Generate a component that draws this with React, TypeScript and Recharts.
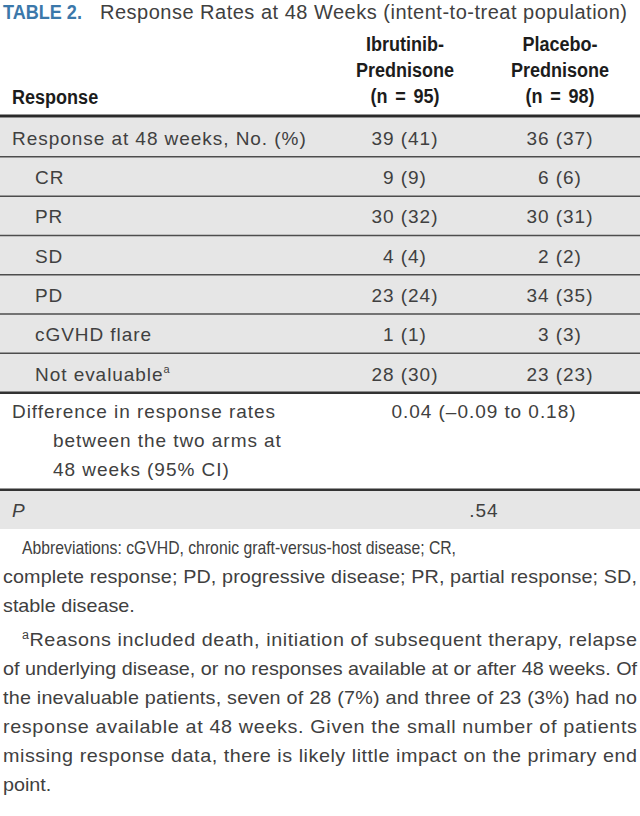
import { ComposedChart, Scatter, XAxis, YAxis, ReferenceArea, ReferenceLine } from "recharts"

const FONT = '"Liberation Sans", Arial, sans-serif'

// table content
const rowLabels = ["Response at 48 weeks, No. (%)", "CR", "PR", "SD", "PD", "cGVHD flare", "Not evaluable"]
const rowIndented = [false, true, true, true, true, true, true]
const rowNotes = ["", "", "", "", "", "", "a"]
const ibrutinibValues = ["39 (41)", "9 (9)", "30 (32)", "4 (4)", "23 (24)", "1 (1)", "28 (30)"]
const placeboValues = ["36 (37)", "6 (6)", "30 (31)", "2 (2)", "34 (35)", "3 (3)", "23 (23)"]
const headerIbrutinib = ["Ibrutinib-", "Prednisone", "(n = 95)"]
const headerPlacebo = ["Placebo-", "Prednisone", "(n = 98)"]
const headerLabel = "Response"
const differenceLabel = ["Difference in response rates", "between the two arms at", "48 weeks (95% CI)"]
const differenceValue = "0.04 (–0.09 to 0.18)"
const pLabel = "P"
const pValue = ".54"

const titleTag = "TABLE 2."
const titleText = "Response Rates at 48 Weeks (intent-to-treat population)"

const footnoteAbbrev = [
  "Abbreviations: cGVHD, chronic graft-versus-host disease; CR,",
  "complete response; PD, progressive disease; PR, partial response; SD,",
  "stable disease.",
]
const footnoteReasons = [
  "Reasons included death, initiation of subsequent therapy, relapse",
  "of underlying disease, or no responses available at or after 48 weeks. Of",
  "the inevaluable patients, seven of 28 (7%) and three of 23 (3%) had no",
  "response available at 48 weeks. Given the small number of patients",
  "missing response data, there is likely little impact on the primary end",
  "point.",
]

// layout (y in body-row units)
const UNIT = 39.3
const W = 640
const H = 529
const X_LABEL = 12
const X_INDENT = 35
const X_CONT = 53
const X_IBR = 405
const X_PLA = 560
const X_SPAN = 484
const DIFF_SPAN = 2.47
const LINE_GAP = 0.738
const HEAD_GAP = 0.655
const FOOT_SX = 1.04
const FOOT_LEFT = 3
const FOOT_INDENT = 22
const FOOT_RIGHT = 637
const FOOT_FIRST_RIGHT = 456
const FOOT_TOP = 554
const FOOT_LEAD = 29
const FOOT_PARA_GAP = 5

type Cell = { x: number; y: number; text: string; anchor: string; head?: boolean; italic?: boolean; sup?: string }

const cells: Cell[] = []
headerIbrutinib.forEach((t, i) => cells.push({ x: X_IBR, y: -0.56 - (2 - i) * HEAD_GAP, text: t, anchor: "middle", head: true }))
headerPlacebo.forEach((t, i) => cells.push({ x: X_PLA, y: -0.56 - (2 - i) * HEAD_GAP, text: t, anchor: "middle", head: true }))
cells.push({ x: X_LABEL, y: -0.54, text: headerLabel, anchor: "start", head: true })
rowLabels.forEach((t, i) => {
  cells.push({ x: rowIndented[i] ? X_INDENT : X_LABEL, y: i + 0.52, text: t, anchor: "start", sup: rowNotes[i] })
  cells.push({ x: X_IBR, y: i + 0.52, text: ibrutinibValues[i], anchor: "middle" })
  cells.push({ x: X_PLA, y: i + 0.52, text: placeboValues[i], anchor: "middle" })
})
const diffTop = rowLabels.length
differenceLabel.forEach((t, i) =>
  cells.push({ x: i === 0 ? X_LABEL : X_CONT, y: diffTop + 0.48 + i * LINE_GAP, text: t, anchor: "start" })
)
cells.push({ x: X_SPAN, y: diffTop + 0.48, text: differenceValue, anchor: "middle" })
const pTop = diffTop + DIFF_SPAN
cells.push({ x: X_LABEL, y: pTop + 0.52, text: pLabel, anchor: "start", italic: true })
cells.push({ x: X_SPAN, y: pTop + 0.52, text: pValue, anchor: "middle" })

const yMax = pTop + 1
const yMin = yMax - H / UNIT

// footnote lines: first line of each paragraph indented; set lines fitted to their measure
const footLines = [
  ...footnoteAbbrev.map((t, i) => ({
    text: t,
    sup: "",
    first: i === 0,
    right: i === 0 ? FOOT_FIRST_RIGHT : i === 1 ? FOOT_RIGHT : 0,
    squeeze: i === 0,
    y: FOOT_TOP + i * FOOT_LEAD,
  })),
  ...footnoteReasons.map((t, i) => ({
    text: t,
    sup: i === 0 ? "a" : "",
    first: i === 0,
    right: i < footnoteReasons.length - 1 ? FOOT_RIGHT : 0,
    squeeze: false,
    y: FOOT_TOP + (footnoteAbbrev.length + i) * FOOT_LEAD + FOOT_PARA_GAP,
  })),
]

function CellText(props: any) {
  const { cx, cy, payload } = props
  if (payload.head) {
    return (
      <text
        transform={`translate(${cx},${cy}) scale(0.88,1)`}
        dy="0.36em"
        textAnchor={payload.anchor}
        fontFamily={FONT}
        fontSize={20.5}
        fontWeight={700}
        wordSpacing={3}
        fill="#1c1c1c"
      >
        {payload.text}
      </text>
    )
  }
  return (
    <text
      x={cx}
      y={cy}
      dy="0.36em"
      textAnchor={payload.anchor}
      fontFamily={FONT}
      fontSize={19}
      letterSpacing={0.95}
      fontStyle={payload.italic ? "italic" : "normal"}
      fill="#404040"
    >
      {payload.text}
      {payload.sup ? (
        <tspan dy={-8} fontSize={11}>
          {payload.sup}
        </tspan>
      ) : null}
    </text>
  )
}

export default function App() {
  return (
    <div style={{ position: "absolute", left: 0, top: 0, width: W, height: 816, background: "#fff", fontFamily: FONT, overflow: "hidden" }}>
      <svg width={W} height={30} style={{ position: "absolute", left: 0, top: 0 }}>
        <text transform="translate(3,19) scale(0.86,1)" fontFamily={FONT} fontSize={21} fontWeight={700} fill="#3b78aa">
          {titleTag}
        </text>
        <text x={100} y={19} fontFamily={FONT} fontSize={20} fill="#404040" textLength={527} lengthAdjust="spacing">
          {titleText}
        </text>
      </svg>
      <ComposedChart width={W} height={H} data={cells} margin={{ top: 0, right: 0, bottom: 0, left: 0 }}>
        <XAxis type="number" dataKey="x" domain={[0, W]} hide />
        <YAxis type="number" dataKey="y" domain={[yMin, yMax]} reversed hide />
        <ReferenceArea y1={0} y2={diffTop} fill="#e6e6e6" fillOpacity={1} />
        <ReferenceArea y1={pTop} y2={yMax} fill="#e6e6e6" fillOpacity={1} />
        {rowLabels.slice(1).map((_, i) => (
          <ReferenceLine key={i} y={i + 1} stroke="#4d4d4d" strokeWidth={1.5} />
        ))}
        <ReferenceLine y={diffTop} stroke="#333" strokeWidth={2.5} />
        <ReferenceLine y={pTop} stroke="#333" strokeWidth={2.5} />
        <ReferenceLine y={-1.5 / UNIT} stroke="#2a2a2a" strokeWidth={3} />
        <Scatter data={cells} dataKey="y" shape={CellText} isAnimationActive={false} />
      </ComposedChart>
      <svg width={W} height={816 - H} viewBox={`0 ${H} ${W} ${816 - H}`} style={{ position: "absolute", left: 0, top: H }}>
        {footLines.map((l, i) => {
          const x = l.first ? FOOT_INDENT : FOOT_LEFT
          const fit = l.right
            ? { textLength: (l.right - x) / FOOT_SX, lengthAdjust: l.squeeze ? "spacingAndGlyphs" : "spacing" }
            : {}
          return (
            <text
              key={i}
              transform={`translate(${x},${l.y}) scale(${FOOT_SX},1)`}
              fontFamily={FONT}
              fontSize={19}
              fill="#404040"
              {...fit}
            >
              {l.sup ? (
                <>
                  <tspan dy={-7} fontSize={12}>
                    {l.sup}
                  </tspan>
                  <tspan dy={7}>{l.text}</tspan>
                </>
              ) : (
                l.text
              )}
            </text>
          )
        })}
      </svg>
    </div>
  )
}
